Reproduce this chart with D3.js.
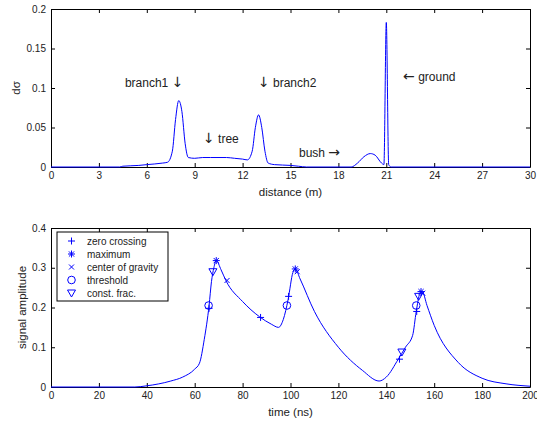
<!DOCTYPE html>
<html lang="en">
<head>
<meta charset="UTF-8">
<title>Waveform</title>
<script src="https://d3js.org/d3.v7.min.js"></script>
<style>
  body { margin: 0; background: #fff; font-family: "Liberation Sans", Arial, sans-serif; }
  text { font-family: "Liberation Sans", Arial, sans-serif; fill: #222; }
</style>
</head>
<body>
<svg id="chart" width="537" height="423"></svg>
<script>
// top panel: cross section vs distance
const distance = [0, 4.3, 4.5, 5.5, 6, 7, 7.3, 7.6, 7.8, 8.0, 8.2, 8.4, 8.6, 9, 9.5, 10, 11, 11.5, 12, 12.3, 12.6, 12.8, 13.0, 13.2, 13.4, 13.6, 14, 15, 15.5, 16, 18.8, 19.2, 19.6, 20, 20.3, 20.7, 20.85, 21.0, 21.15, 21.3, 30];
const dsigma   = [0, 0, 0.001, 0.002, 0.003, 0.005, 0.006, 0.02, 0.06, 0.084, 0.07, 0.03, 0.012, 0.011, 0.012, 0.012, 0.012, 0.011, 0.01, 0.009, 0.02, 0.05, 0.066, 0.05, 0.02, 0.005, 0.003, 0.002, 0.001, 0, 0, 0.005, 0.013, 0.017, 0.015, 0.005, 0.003, 0.183, 0.003, 0, 0];
const topXTicks = [0, 3, 6, 9, 12, 15, 18, 21, 24, 27, 30];
const topYTicks = [0, 0.05, 0.1, 0.15, 0.2];
const notes = [
  { pre: "branch1 ", arrow: "\u2193", post: "", d: 4.63, v: 0.101 },
  { pre: "", arrow: "\u2193", post: " branch2", d: 12.96, v: 0.101 },
  { pre: "", arrow: "\u2193", post: " tree", d: 9.52, v: 0.0304 },
  { pre: "bush ", arrow: "\u2192", post: "", d: 15.53, v: 0.0127 },
  { pre: "", arrow: "\u2190", post: " ground", d: 22.05, v: 0.109 }
];

// bottom panel: signal vs time
const time   = [0, 35, 40, 50, 55, 60, 62, 64, 66, 67, 68, 69, 71, 73, 80, 87, 92, 95, 97, 99, 101, 102, 104, 110, 120, 130, 137, 140, 145, 148, 151, 152.5, 154, 155, 157, 160, 170, 180, 190, 200];
const signal = [0, 0, 0.003, 0.015, 0.025, 0.045, 0.06, 0.12, 0.205, 0.265, 0.3, 0.318, 0.295, 0.268, 0.215, 0.177, 0.158, 0.15, 0.17, 0.22, 0.288, 0.297, 0.272, 0.19, 0.1, 0.042, 0.015, 0.025, 0.07, 0.1, 0.13, 0.19, 0.235, 0.24, 0.205, 0.155, 0.062, 0.022, 0.008, 0.002];
const botXTicks = [0, 20, 40, 60, 80, 100, 120, 140, 160, 180, 200];
const botYTicks = [0, 0.1, 0.2, 0.3, 0.4];

const zeroCrossing = [[66, 0.198], [87.5, 0.175], [99.2, 0.228], [145.5, 0.07], [152.7, 0.19]];
const maximum      = [[69, 0.318], [102, 0.297], [154.5, 0.24]];
const cog          = [[73.5, 0.268], [102.8, 0.29], [155.2, 0.236]];
const threshold    = [[65.8, 0.205], [98.5, 0.205], [152.5, 0.205]];
const constFrac    = [[67.6, 0.29], [146.5, 0.088], [153.5, 0.228]];
const legendNames  = ["zero crossing", "maximum", "center of gravity", "threshold", "const. frac."];

const svg = d3.select("#chart");
const blue = "#0000ff";

function panel(box, xDomain, yDomain, xTicks, yTicks, xLabel, yLabel, yOff) {
  const x = d3.scaleLinear().domain(xDomain).range([box.left, box.right]);
  const y = d3.scaleLinear().domain(yDomain).range([box.bottom, box.top]);
  const g = svg.append("g");
  const fmt = d => d3.format("~g")(d);

  g.append("g").attr("transform", `translate(0,${box.bottom})`)
    .call(d3.axisBottom(x).tickValues(xTicks).tickSizeInner(-4).tickSizeOuter(0).tickPadding(5));
  g.append("g").attr("transform", `translate(0,${box.top})`)
    .call(d3.axisTop(x).tickValues(xTicks).tickSizeInner(-4).tickSizeOuter(0).tickFormat(""));
  g.append("g").attr("transform", `translate(${box.left},0)`)
    .call(d3.axisLeft(y).tickValues(yTicks).tickSizeInner(-4).tickSizeOuter(0).tickPadding(5).tickFormat(fmt));
  g.append("g").attr("transform", `translate(${box.right},0)`)
    .call(d3.axisRight(y).tickValues(yTicks).tickSizeInner(-4).tickSizeOuter(0).tickFormat(""));
  g.selectAll(".domain").attr("stroke", "#000").attr("stroke-width", 1);
  g.selectAll(".tick line").attr("stroke", "#000");
  g.selectAll(".tick text").style("font-size", "10px").attr("fill", "#222");

  g.append("text").attr("x", (box.left + box.right) / 2).attr("y", box.bottom + 29)
    .attr("text-anchor", "middle").style("font-size", "11.5px").text(xLabel);
  g.append("text").attr("transform", `translate(${box.left - yOff},${(box.top + box.bottom) / 2}) rotate(-90)`)
    .attr("text-anchor", "middle").style("font-size", "11.5px").text(yLabel);
  return { x, y };
}

// top
const topP = panel({ left: 51, right: 530, top: 9, bottom: 167 }, [0, 30], [0, 0.2],
  topXTicks, topYTicks, "distance (m)", "d\u03c3", 31);
svg.append("path")
  .datum(distance.map((d, i) => [d, dsigma[i]]))
  .attr("fill", "none").attr("stroke", blue).attr("stroke-width", 1)
  .attr("d", d3.line().x(d => topP.x(d[0])).y(d => topP.y(d[1])).curve(d3.curveMonotoneX));
notes.forEach(n => {
  const t = svg.append("text").attr("x", topP.x(n.d)).attr("y", topP.y(n.v))
    .style("font-size", "12px");
  t.append("tspan").text(n.pre);
  t.append("tspan").style("font-family", "'DejaVu Sans', sans-serif").style("font-size", "14px").text(n.arrow);
  t.append("tspan").text(n.post);
});

// bottom
const botP = panel({ left: 51, right: 530, top: 228, bottom: 387 }, [0, 200], [0, 0.4],
  botXTicks, botYTicks, "time (ns)", "signal amplitude", 25);
svg.append("path")
  .datum(time.map((d, i) => [d, signal[i]]))
  .attr("fill", "none").attr("stroke", blue).attr("stroke-width", 1)
  .attr("d", d3.line().x(d => botP.x(d[0])).y(d => botP.y(d[1])).curve(d3.curveMonotoneX));

function marker(g, kind, cx, cy) {
  const s = 3.5;
  if (kind === 0) {
    g.append("path").attr("d", `M${cx - s},${cy}H${cx + s}M${cx},${cy - s}V${cy + s}`);
  } else if (kind === 1) {
    g.append("path").attr("d", `M${cx - s},${cy}H${cx + s}M${cx},${cy - s}V${cy + s}M${cx - 2.6},${cy - 2.6}L${cx + 2.6},${cy + 2.6}M${cx - 2.6},${cy + 2.6}L${cx + 2.6},${cy - 2.6}`);
  } else if (kind === 2) {
    g.append("path").attr("d", `M${cx - 2.5},${cy - 2.5}L${cx + 2.5},${cy + 2.5}M${cx - 2.5},${cy + 2.5}L${cx + 2.5},${cy - 2.5}`);
  } else if (kind === 3) {
    g.append("circle").attr("cx", cx).attr("cy", cy).attr("r", 3.8);
  } else {
    g.append("path").attr("d", `M${cx - 4},${cy - 3}L${cx + 4},${cy - 3}L${cx},${cy + 4}Z`);
  }
}
const markG = svg.append("g").attr("fill", "none").attr("stroke", blue).attr("stroke-width", 1);
[zeroCrossing, maximum, cog, threshold, constFrac].forEach((set, k) => {
  set.forEach(p => marker(markG, k, botP.x(p[0]), botP.y(p[1])));
});

// legend
const lg = svg.append("g");
lg.append("rect").attr("x", 57).attr("y", 232).attr("width", 111).attr("height", 69)
  .attr("fill", "#fff").attr("stroke", "#000");
const lm = lg.append("g").attr("fill", "none").attr("stroke", blue).attr("stroke-width", 1);
legendNames.forEach((name, i) => {
  const yy = 241 + i * 13;
  marker(lm, i, 71.5, yy);
  lg.append("text").attr("x", 87).attr("y", yy + 3.5).style("font-size", "10px").text(name);
});
</script>
</body>
</html>
